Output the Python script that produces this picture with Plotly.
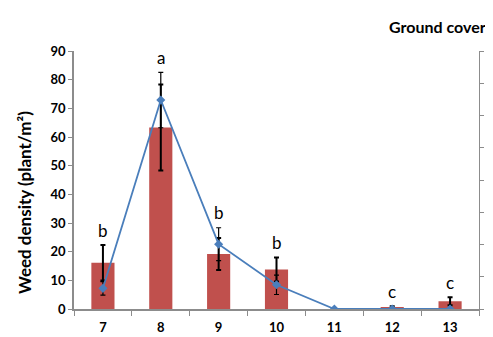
import plotly.graph_objects as go

categories = ["7", "8", "9", "10", "11", "12", "13"]
weed_density = [16.1, 63.3, 19.2, 13.8, 0.0, 0.6, 2.7]
weed_err = [6.2, 15.0, 5.6, 4.2, 0.0, 0.4, 1.4]
ground_cover = [6.4, 64.8, 20.1, 7.5, 0.0, 0.0, 0.0]
ground_err = [2.1, 8.6, 5.1, 3.0, 0.0, 0.0, 0.0]
letters = ["b", "a", "b", "b", "", "c", "c"]
left_ticks = list(range(0, 91, 10))
right_ticks = list(range(0, 81, 10))

LEFT_MAX = 90
RIGHT_MAX = 80
FONT = "Lato, Open Sans, sans-serif"
AXIS_COL = "#8c8c8c"

fig = go.Figure()
fig.add_trace(go.Bar(
    x=categories, y=weed_density, width=0.4,
    marker=dict(color="#C0504D", line=dict(width=0)),
    error_y=dict(type="data", array=weed_err, color="black", thickness=2, width=2.5),
    yaxis="y", showlegend=False,
))
fig.add_trace(go.Scatter(
    x=categories, y=ground_cover, mode="lines+markers",
    line=dict(color="#4A7EBB", width=1.8),
    marker=dict(symbol="diamond", size=7, color="#4A7EBB"),
    error_y=dict(type="data", array=ground_err, color="black", thickness=1.2, width=2.5),
    yaxis="y2", showlegend=False,
))

annotations = []
for i, (b, be, g, ge, t) in enumerate(zip(weed_density, weed_err, ground_cover, ground_err, letters)):
    if not t:
        continue
    top = max(b + be, (g + ge) * LEFT_MAX / RIGHT_MAX)
    annotations.append(dict(x=i, y=top, xref="x", yref="y", text=t, showarrow=False,
                            yanchor="middle", yshift=15,
                            font=dict(family=FONT, size=17, color="black")))

annotations.append(dict(x=-0.121, y=0.415, xref="paper", yref="paper",
                        xanchor="center", yanchor="middle",
                        text="<b>Weed density (plant/m²)</b>", textangle=-90, showarrow=False,
                        font=dict(family=FONT, size=17, color="black")))
annotations.append(dict(x=1.022, y=1.14, xref="paper", yref="paper", xanchor="right",
                        text="<b>Ground cover</b>", showarrow=False,
                        font=dict(family=FONT, size=16, color="black")))

# the page body adds an 8px offset, so the figure is 8px smaller and shifted
fig.update_layout(
    width=485, height=329,
    margin=dict(l=66, r=14, t=43, b=28, autoexpand=False),
    plot_bgcolor="white", paper_bgcolor="white",
    font=dict(family=FONT, color="black"),
    annotations=annotations,
    xaxis=dict(type="category", range=[-0.5, 6.5], tickson="boundaries", ticks="outside", ticklen=5,
               tickcolor=AXIS_COL, showline=True, linecolor=AXIS_COL, linewidth=1.5,
               showgrid=False, tickfont=dict(family=FONT, size=13, color="black", weight="bold"),
               ticklabelstandoff=6),
    yaxis=dict(range=[0, LEFT_MAX], tickvals=left_ticks, ticks="outside", ticklen=4,
               tickcolor=AXIS_COL, showline=True, linecolor=AXIS_COL, linewidth=1.5,
               showgrid=False, zeroline=False,
               tickfont=dict(family=FONT, size=13, color="black", weight="bold")),
    yaxis2=dict(range=[0, RIGHT_MAX], tickvals=right_ticks, overlaying="y", side="right",
                ticks="outside", ticklen=4, tickcolor=AXIS_COL, showline=True,
                linecolor=AXIS_COL, linewidth=1, showgrid=False, zeroline=False,
                automargin=False, showticklabels=False),
)

fig.write_html("out.html")
